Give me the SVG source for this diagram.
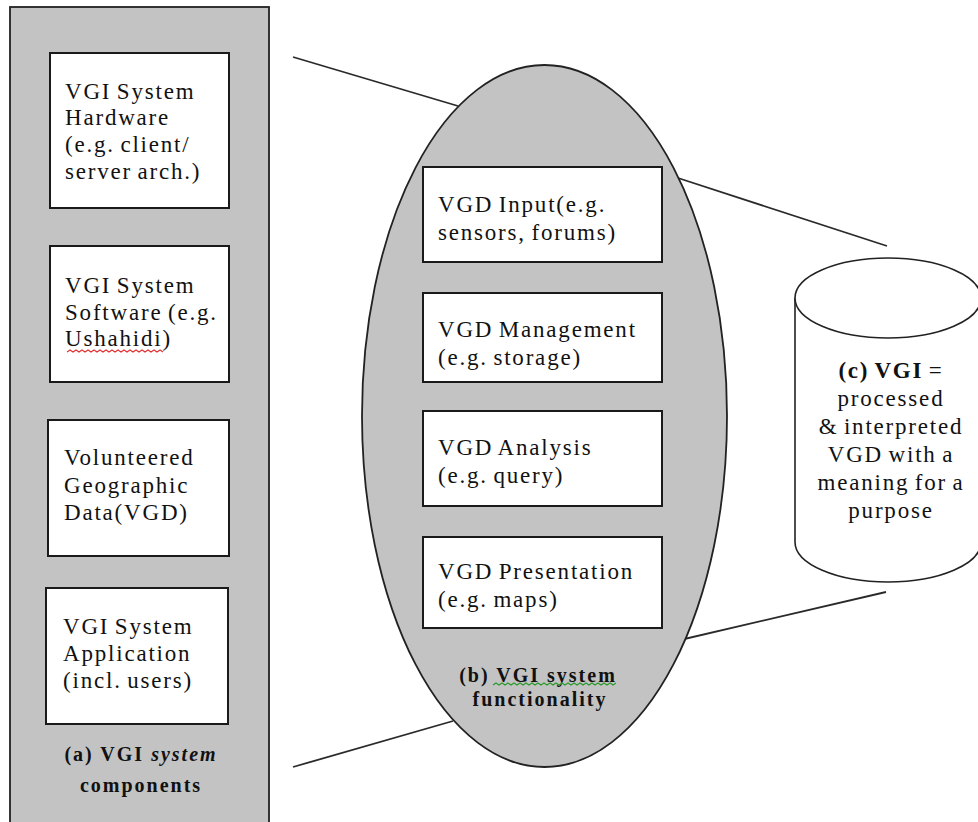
<svg xmlns="http://www.w3.org/2000/svg" width="978" height="822" viewBox="0 0 978 822">
  <style>
    .panel { fill: #c3c3c3; stroke: #222; stroke-width: 1.8; }
    .box { fill: #fff; stroke: #1a1a1a; stroke-width: 2; }
    .conn { stroke: #2a2a2a; stroke-width: 1.8; fill: none; }
    .cyl { fill: #fff; stroke: #222; stroke-width: 1.6; }
    .t { font-family: "Liberation Serif", "Times New Roman", serif; font-size: 23px; letter-spacing: 1.8px; word-spacing: -2px; fill: #111; }
    .c { text-anchor: middle; }
    .lbl { font-family: "Liberation Serif", "Times New Roman", serif; font-size: 20px; font-weight: bold; letter-spacing: 2px; fill: #111; text-anchor: middle; }
    .sq-red { stroke: #e03030; stroke-width: 1.1; fill: none; }
    .sq-green { stroke: #2a9a2a; stroke-width: 1.1; fill: none; }
  </style>

  <g id="connectors">
    <line class="conn" x1="293" y1="57" x2="458" y2="106"/>
    <line class="conn" x1="678" y1="178" x2="887" y2="246"/>
    <line class="conn" x1="680" y1="640" x2="886" y2="592"/>
    <line class="conn" x1="293" y1="767" x2="453" y2="721"/>
  </g>

  <g id="panel-a">
    <rect class="panel" x="10" y="7" width="259" height="840"/>
    <text class="lbl" x="141" y="761">(a) VGI <tspan font-style="italic">system</tspan></text>
    <text class="lbl" x="141" y="792">components</text>
  </g>

  <g id="comp-hardware">
    <rect class="box" x="50" y="53" width="179" height="155"/>
    <text class="t" x="65" y="99">VGI System</text>
    <text class="t" x="65" y="125">Hardware</text>
    <text class="t" x="65" y="152">(e.g. client/</text>
    <text class="t" x="65" y="179">server arch.)</text>
  </g>

  <g id="comp-software">
    <rect class="box" x="50" y="246" width="179" height="136"/>
    <text class="t" x="65" y="293">VGI System</text>
    <text class="t" x="65" y="320">Software (e.g.</text>
    <text class="t" x="65" y="346">Ushahidi)</text>
    <path class="sq-red" d="M67 352 l3 -2 l3 2 l3 -2 l3 2 l3 -2 l3 2 l3 -2 l3 2 l3 -2 l3 2 l3 -2 l3 2 l3 -2 l3 2 l3 -2 l3 2 l3 -2 l3 2 l3 -2 l3 2 l3 -2 l3 2 l3 -2 l3 2 l3 -2 l3 2 l3 -2 l3 2 l3 -2 l3 2 l3 -2 l3 2"/>
  </g>

  <g id="comp-vgd">
    <rect class="box" x="48" y="420" width="181" height="136"/>
    <text class="t" x="64" y="465">Volunteered</text>
    <text class="t" x="64" y="493">Geographic</text>
    <text class="t" x="64" y="520">Data(VGD)</text>
  </g>

  <g id="comp-application">
    <rect class="box" x="46" y="588" width="182" height="136"/>
    <text class="t" x="63" y="634">VGI System</text>
    <text class="t" x="63" y="661">Application</text>
    <text class="t" x="63" y="688">(incl. users)</text>
  </g>

  <g id="ellipse-b">
    <ellipse class="panel" cx="544.5" cy="416" rx="182.5" ry="351"/>
    <text class="lbl" x="538" y="682">(b) VGI system</text>
    <path class="sq-green" d="M493 685 l3 -2 l3 2 l3 -2 l3 2 l3 -2 l3 2 l3 -2 l3 2 l3 -2 l3 2 l3 -2 l3 2 l3 -2 l3 2 l3 -2 l3 2 l3 -2 l3 2 l3 -2 l3 2 l3 -2 l3 2 l3 -2 l3 2 l3 -2 l3 2 l3 -2 l3 2 l3 -2 l3 2 l3 -2 l3 2 l3 -2 l3 2 l3 -2 l3 2 l3 -2 l3 2 l3 -2 l3 2 l3 -2"/>
    <text class="lbl" x="540" y="706">functionality</text>
  </g>

  <g id="func-input">
    <rect class="box" x="423" y="167" width="239" height="95"/>
    <text class="t" x="438" y="212">VGD Input(e.g.</text>
    <text class="t" x="438" y="240">sensors, forums)</text>
  </g>

  <g id="func-management">
    <rect class="box" x="423" y="293" width="239" height="89"/>
    <text class="t" x="438" y="337">VGD Management</text>
    <text class="t" x="438" y="365">(e.g. storage)</text>
  </g>

  <g id="func-analysis">
    <rect class="box" x="423" y="411" width="239" height="95"/>
    <text class="t" x="438" y="455">VGD Analysis</text>
    <text class="t" x="438" y="483">(e.g. query)</text>
  </g>

  <g id="func-presentation">
    <rect class="box" x="423" y="537" width="239" height="91"/>
    <text class="t" x="438" y="579">VGD Presentation</text>
    <text class="t" x="438" y="607">(e.g. maps)</text>
  </g>

  <g id="cylinder-c">
    <path class="cyl" d="M795 298 L795 542 A93 40 0 0 0 981 542 L981 298"/>
    <ellipse class="cyl" cx="888" cy="298" rx="93" ry="40"/>
    <text class="t c" x="891" y="378"><tspan font-weight="bold">(c) VGI</tspan> =</text>
    <text class="t c" x="891" y="406">processed</text>
    <text class="t c" x="891" y="434">&amp; interpreted</text>
    <text class="t c" x="891" y="462">VGD with a</text>
    <text class="t c" x="891" y="490">meaning for a</text>
    <text class="t c" x="891" y="518">purpose</text>
  </g>
</svg>
